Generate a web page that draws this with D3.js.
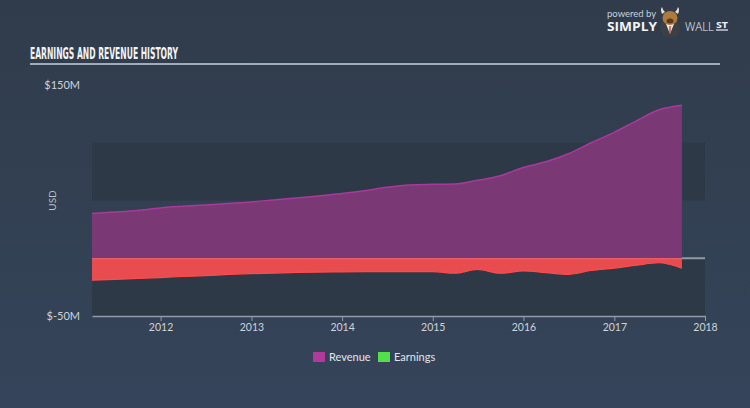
<!DOCTYPE html>
<html>
<head>
<meta charset="utf-8">
<script src="https://cdn.jsdelivr.net/npm/d3@7"></script>
<style>
  html, body { margin: 0; padding: 0; background: #323f4f; }
  svg { display: block; }
</style>
</head>
<body>
<div class="chart"></div>
<script>
// quarterly figures, USD millions
const dates = [
  '2011-03-31','2011-06-30','2011-09-30','2011-12-31',
  '2012-03-31','2012-06-30','2012-09-30','2012-12-31',
  '2013-03-31','2013-06-30','2013-09-30','2013-12-31',
  '2014-03-31','2014-06-30','2014-09-30','2014-12-31',
  '2015-03-31','2015-06-30','2015-09-30','2015-12-31',
  '2016-03-31','2016-06-30','2016-09-30','2016-12-31',
  '2017-03-31','2017-06-30','2017-09-30'
];
const revenue = [
  38.8, 40.0, 41.4, 43.6,
  45.0, 46.2, 47.5, 48.8,
  50.5, 52.2, 54.0, 56.0,
  58.5, 61.5, 63.5, 64.0,
  64.3, 67.5, 71.5, 78.5,
  83.5, 90.5, 100.0, 109.0,
  119.0, 128.5, 132.5
];
const earnings = [
  -19.0, -18.3, -17.5, -16.7,
  -15.8, -15.0, -14.0, -13.3,
  -12.8, -12.3, -12.0, -11.8,
  -11.6, -11.5, -11.5, -11.5,
  -13.0, -9.6, -13.0, -11.0,
  -12.4, -13.9, -10.6, -8.6,
  -6.0, -3.9, -8.7
];
const yearTicks = [2012, 2013, 2014, 2015, 2016, 2017, 2018];
const yTickValues = [-50, 150];
const bandEdges = [[100, 50], [0, -50]];
const legendItems = [
  {name: 'Revenue', color: '#b0399a'},
  {name: 'Earnings', color: '#4fe04c'}
];

const width = 750, height = 408;
const parse = d3.timeParse('%Y-%m-%d');
const rows = dates.map((d, i) => ({date: parse(d), revenue: revenue[i], earnings: earnings[i]}));

const svg = d3.select('.chart').append('svg')
  .attr('xmlns', 'http://www.w3.org/2000/svg')
  .attr('width', width)
  .attr('height', height);

const defs = svg.append('defs');
const bg = defs.append('linearGradient').attr('id', 'bg')
  .attr('x1', 0).attr('y1', 0).attr('x2', 0).attr('y2', 1);
bg.append('stop').attr('offset', '0%').attr('stop-color', '#303c4b');
bg.append('stop').attr('offset', '100%').attr('stop-color', '#35445a');

svg.append('rect').attr('width', width).attr('height', height).attr('fill', 'url(#bg)');

const x = d3.scaleTime()
  .domain([parse('2011-03-31'), parse('2018-01-01')])
  .range([92, 705]);
const y = d3.scaleLinear()
  .domain([-50, 150])
  .range([316, 85]);

// darker bands behind the plot
svg.selectAll('rect.band')
  .data(bandEdges)
  .enter()
  .append('rect')
    .attr('class', 'band')
    .attr('x', x.range()[0])
    .attr('width', x.range()[1] - x.range()[0])
    .attr('y', d => y(d[0]))
    .attr('height', d => y(d[1]) - y(d[0]))
    .attr('fill', '#2d3947');

// zero line
svg.append('line')
  .attr('x1', x.range()[0]).attr('x2', x.range()[1])
  .attr('y1', y(0)).attr('y2', y(0))
  .attr('stroke', '#8e9aa6').attr('stroke-width', 2);

const curve = d3.curveMonotoneX;

svg.append('path')
  .datum(rows)
  .attr('d', d3.area().curve(curve).x(d => x(d.date)).y0(y(0)).y1(d => y(d.revenue)))
  .attr('fill', '#7a3874');
svg.append('path')
  .datum(rows)
  .attr('d', d3.line().curve(curve).x(d => x(d.date)).y(d => y(d.revenue)))
  .attr('fill', 'none')
  .attr('stroke', '#a83a9c')
  .attr('stroke-width', 1.5);

svg.append('path')
  .datum(rows)
  .attr('d', d3.area().curve(curve).x(d => x(d.date)).y0(y(0)).y1(d => y(d.earnings)))
  .attr('fill', '#e84c4f');
svg.append('path')
  .datum(rows)
  .attr('d', d3.line().curve(curve).x(d => x(d.date)).y(d => y(d.earnings)))
  .attr('fill', 'none')
  .attr('stroke', '#ff4b4b')
  .attr('stroke-width', 1.2);
svg.append('line')
  .attr('x1', x.range()[0]).attr('x2', x(rows[rows.length - 1].date))
  .attr('y1', y(0) + 0.5).attr('y2', y(0) + 0.5)
  .attr('stroke', '#f0606a').attr('stroke-width', 1);

// x axis
const xAxis = d3.axisBottom(x)
  .tickValues(yearTicks.map(yr => new Date(yr, 0, 1)))
  .tickFormat(d3.timeFormat('%Y'))
  .tickSizeInner(5)
  .tickSizeOuter(0);

const gx = svg.append('g')
  .attr('transform', 'translate(0,' + y(-50) + ')')
  .call(xAxis);
gx.select('.domain').attr('stroke', '#8e9cab').attr('stroke-width', 1.5);
gx.selectAll('.tick line').attr('stroke', '#8e9cab').attr('stroke-width', 1);
gx.selectAll('.tick text')
  .attr('y', 8)
  .attr('fill', '#cdd4db')
  .attr('font-family', 'Lato, sans-serif')
  .attr('font-size', 10.5);

// y labels
svg.selectAll('text.ylabel')
  .data(yTickValues)
  .enter()
  .append('text')
    .attr('class', 'ylabel')
    .attr('x', 80)
    .attr('y', d => y(d))
    .attr('dy', '0.35em')
    .attr('text-anchor', 'end')
    .attr('fill', '#cdd4db')
    .attr('font-family', 'Lato, sans-serif')
    .attr('font-size', 11)
    .text(d => '$' + d + 'M');

svg.append('text')
  .attr('transform', 'translate(52,' + y(50) + ') rotate(-90)')
  .attr('text-anchor', 'middle')
  .attr('dy', '0.35em')
  .attr('fill', '#b8c0c8')
  .attr('font-family', 'Lato, sans-serif')
  .attr('font-size', 10)
  .text('USD');

// title
svg.append('text')
  .attr('x', 30).attr('y', 59)
  .attr('fill', '#f2f4f6')
  .attr('font-family', '"Liberation Sans Narrow", "DejaVu Sans Condensed", sans-serif')
  .attr('font-weight', 'bold')
  .attr('font-size', 15.5)
  .attr('textLength', 148)
  .attr('lengthAdjust', 'spacingAndGlyphs')
  .text('EARNINGS AND REVENUE HISTORY');
svg.append('line')
  .attr('x1', 30).attr('x2', 720)
  .attr('y1', 64).attr('y2', 64)
  .attr('stroke', '#9eabb8').attr('stroke-width', 2);

// legend
const legend = svg.append('g').attr('transform', 'translate(313,352)');
const li = legend.selectAll('g')
  .data(legendItems)
  .enter()
  .append('g')
    .attr('transform', (d, i) => 'translate(' + (i * 65) + ',0)');
li.append('rect').attr('width', 12).attr('height', 10).attr('fill', d => d.color);
li.append('text')
  .attr('x', 16).attr('y', 5).attr('dy', '0.35em')
  .attr('fill', '#e2e6ea')
  .attr('font-family', 'Lato, sans-serif')
  .attr('font-size', 11)
  .text(d => d.name);

// logo
const logo = svg.append('g');
logo.append('text')
  .attr('x', 607).attr('y', 17)
  .attr('fill', '#c9d0d8')
  .attr('font-family', 'Lato, sans-serif')
  .attr('font-size', 9.5)
  .text('powered by');
logo.append('text')
  .attr('x', 607).attr('y', 30.5)
  .attr('fill', '#f2f4f6')
  .attr('font-family', '"Open Sans", sans-serif')
  .attr('font-weight', 'bold')
  .attr('font-size', 12)
  .attr('textLength', 50)
  .attr('lengthAdjust', 'spacingAndGlyphs')
  .text('SIMPLY');
logo.append('circle').attr('cx', 670).attr('cy', 28).attr('r', 10).attr('fill', '#3c3f44');
logo.append('path').attr('d', 'M666,24 L670,34 L674,24 Z').attr('fill', '#e9e9e9');
logo.append('line').attr('x1', 670).attr('x2', 670).attr('y1', 26).attr('y2', 33)
  .attr('stroke', '#d2462a').attr('stroke-width', 1.4);
logo.append('ellipse').attr('cx', 670).attr('cy', 18).attr('rx', 7.5).attr('ry', 7).attr('fill', '#b07a3a');
logo.append('path').attr('d', 'M662,14 Q660,9 662,7 Q663,11 665,12 Z M678,14 Q680,9 678,7 Q677,11 675,12 Z')
  .attr('fill', '#e8e2d4');
logo.append('ellipse').attr('cx', 670).attr('cy', 21).attr('rx', 3.5).attr('ry', 2.5).attr('fill', '#5a3b1e');
logo.append('text')
  .attr('x', 685).attr('y', 30.5)
  .attr('fill', '#eef1f4')
  .attr('font-family', '"Open Sans", sans-serif')
  .attr('font-weight', 300)
  .attr('font-size', 12)
  .attr('textLength', 29)
  .attr('lengthAdjust', 'spacingAndGlyphs')
  .text('WALL');
logo.append('text')
  .attr('x', 716).attr('y', 27.5)
  .attr('fill', '#eef1f4')
  .attr('font-family', '"Open Sans", sans-serif')
  .attr('font-weight', 'bold')
  .attr('font-size', 9)
  .attr('textLength', 12)
  .attr('lengthAdjust', 'spacingAndGlyphs')
  .text('ST');
logo.append('line')
  .attr('x1', 716).attr('x2', 728).attr('y1', 30).attr('y2', 30)
  .attr('stroke', '#eef1f4').attr('stroke-width', 1.2);
</script>
</body>
</html>
